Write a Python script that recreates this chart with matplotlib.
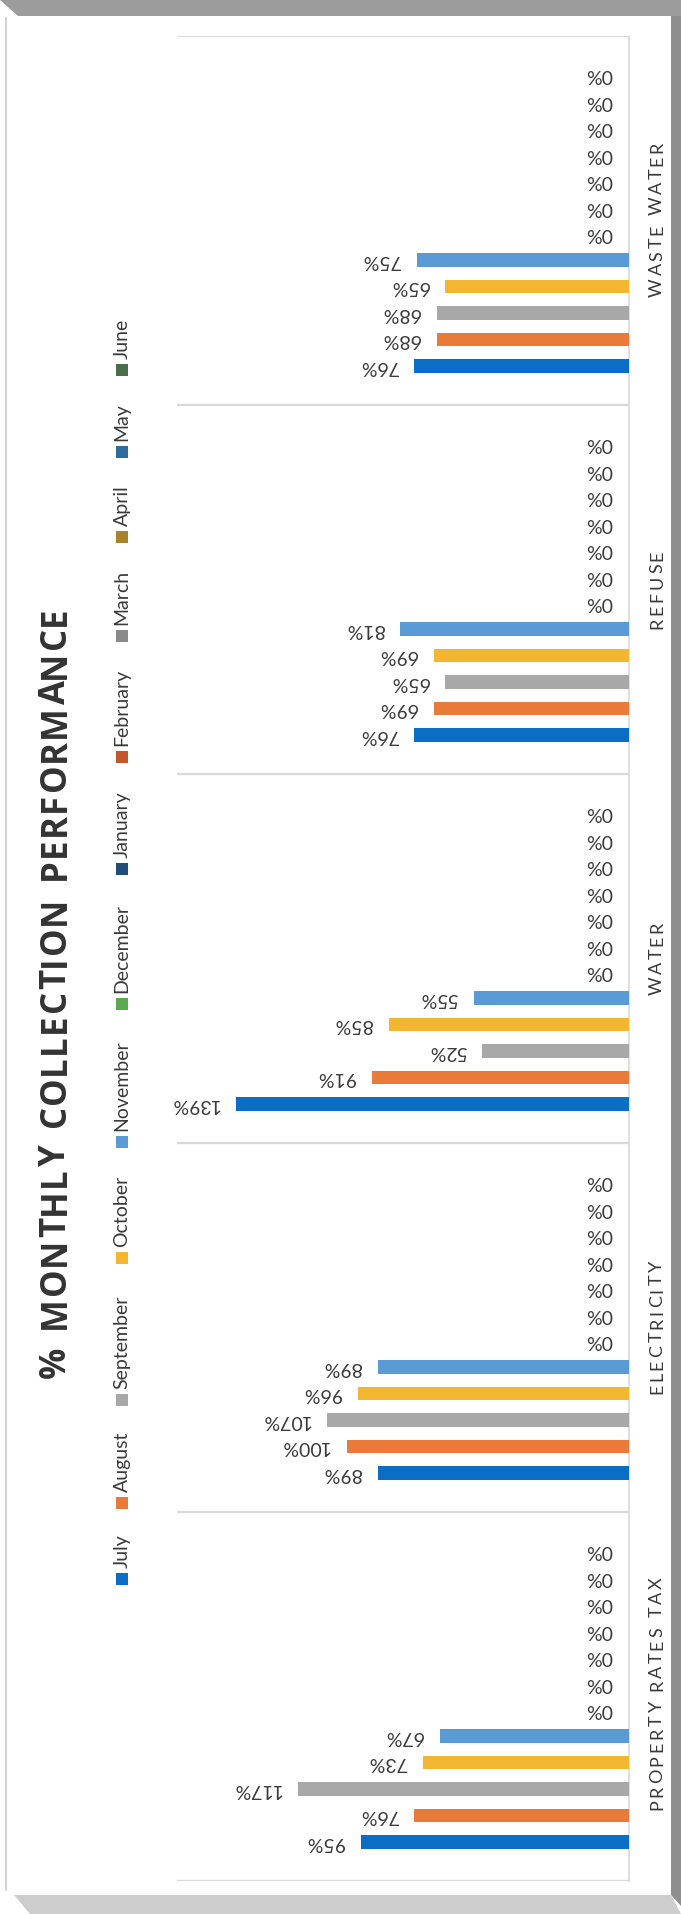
import matplotlib
matplotlib.use("Agg")
import matplotlib.pyplot as plt
from matplotlib.patches import Rectangle, Polygon
from matplotlib.font_manager import FontProperties
import numpy as np

# Data (chart is drawn turned on its side, like the scanned page)
categories = ["PROPERTY RATES TAX", "ELECTRICITY", "WATER", "REFUSE", "WASTE WATER"]
months = ["July", "August", "September", "October", "November", "December",
          "January", "February", "March", "April", "May", "June"]
july = [95, 89, 139, 76, 76]
august = [76, 100, 91, 69, 68]
september = [117, 107, 52, 65, 68]
october = [73, 96, 85, 69, 65]
november = [67, 89, 55, 81, 75]
december = [0, 0, 0, 0, 0]
january = [0, 0, 0, 0, 0]
february = [0, 0, 0, 0, 0]
march = [0, 0, 0, 0, 0]
april = [0, 0, 0, 0, 0]
may = [0, 0, 0, 0, 0]
june = [0, 0, 0, 0, 0]
series = [july, august, september, october, november, december,
          january, february, march, april, may, june]

colors = ["#0A6EC4", "#E87B3A", "#A8A8A8", "#F2B630", "#5B9BD5", "#5BAA4E",
          "#1F4E79", "#C4562A", "#8A8A8A", "#A8832C", "#2E6C9E", "#4A6E4A"]

FONT = ["Lato", "DejaVu Sans"]
TITLE_FONT = ["Open Sans", "DejaVu Sans"]
TXT = "#3A3A3A"
W, H = 681, 1914

fig = plt.figure(figsize=(W / 100, H / 100), dpi=100)
fig.patch.set_facecolor("white")
renderer = fig.canvas.get_renderer()


def tracked_text(ax, x, y_center, s, track, word_gap, family, length=None, **kw):
    """Vertical (rotated 90) text with letter spacing, in pixel coords (y down)."""
    prop = FontProperties(family=family, size=kw.get("fontsize", 12),
                          weight=kw.get("fontweight", "normal"))
    widths = []
    for ch in s:
        if ch == " ":
            widths.append(None)
        else:
            w, _, _ = renderer.get_text_width_height_descent(ch, prop, ismath=False)
            widths.append(w)
    letters = [w for w in widths if w is not None]
    n_space = widths.count(None)
    gaps = len(s) - 1 - 2 * n_space
    if length is not None:
        track = (length - sum(letters) - n_space * word_gap) / max(gaps, 1)
    total = sum(letters) + n_space * word_gap + gaps * track
    y = y_center + total / 2
    for ch, w in zip(s, widths):
        if w is None:
            y -= word_gap
            continue
        ax.text(x, y, ch, rotation=90, ha="center", va="bottom", family=family, **kw)
        y -= w + track


# pixel layout of the plot area
x0, x1 = 177, 629
ytop, ybot = 36, 1881
ax = fig.add_axes([x0 / W, (H - ybot) / H, (x1 - x0) / W, (ybot - ytop) / H])
ax.set_xlim(160, 0)
ax.set_ylim(-0.5, 4.5)

step = 0.0718
bar_h = 0.0366
cat_pos = np.arange(len(categories))

for j, (vals, col) in enumerate(zip(series, colors)):
    ypos = cat_pos + (j - 5.5) * step
    ax.barh(ypos, vals, height=bar_h, color=col, zorder=3)
    for y, v in zip(ypos, vals):
        ax.annotate(f"{v}%", xy=(v, y), xytext=(-12, 0), textcoords="offset points",
                    rotation=180, ha="right", va="center", fontsize=14,
                    family=FONT, color=TXT)

# separators between categories
ax.set_yticks(np.arange(-0.5, 4.6, 1))
ax.set_yticklabels([])
ax.set_xticks([])
ax.tick_params(length=0)
ax.grid(axis="y", color="#D9D9D9", lw=1.6)
for s in ["top", "bottom", "left"]:
    ax.spines[s].set_visible(False)
ax.spines["right"].set_color("#D9D9D9")
ax.spines["right"].set_linewidth(1.2)

# overlay in image pixel coordinates for frame, title, labels and legend
ov = fig.add_axes([0, 0, 1, 1])
ov.set_xlim(0, W)
ov.set_ylim(H, 0)
ov.axis("off")
ov.patch.set_visible(False)

ov.add_patch(Polygon([(0, 0), (W, 0), (W, 16), (18, 16)], closed=True,
                     color="#9C9C9C", lw=0))
ov.add_patch(Polygon([(671, 16), (W, 16), (W, 1906), (671, 1895)], closed=True,
                     color="#8E8E8E", lw=0))
ov.add_patch(Polygon([(14, 1895), (671, 1895), (W, H), (30, H)], closed=True,
                     color="#CDCDCD", lw=0))
ov.plot([6, 6], [18, 1890], color="#D6D6D6", lw=1.5)

# category labels, letter spaced, centred on each group
group_px = (ybot - ytop) / len(categories)
for i, name in enumerate(categories):
    yc = ybot - (i + 0.5) * group_px
    tracked_text(ov, 657, yc, name, track=2.6, word_gap=7, family=FONT,
                 fontsize=13, color=TXT)

# title
tracked_text(ov, 56, 994, "% MONTHLY COLLECTION PERFORMANCE", track=3, word_gap=16,
             family=TITLE_FONT, length=768, fontsize=25, fontweight="bold",
             color="#333333")

# legend, drawn by hand because it is turned
leg_y = [1579, 1503, 1400, 1258, 1142, 1004, 869, 757, 636, 537, 452, 370]
for name, col, y in zip(months, colors, leg_y):
    ov.add_patch(Rectangle((116, y - 6), 12, 12, color=col, lw=0))
    ov.text(122, y - 11, name, rotation=90, ha="center", va="bottom",
            fontsize=14, family=FONT, color=TXT)

fig.savefig("out.png", dpi=100, facecolor="white")
